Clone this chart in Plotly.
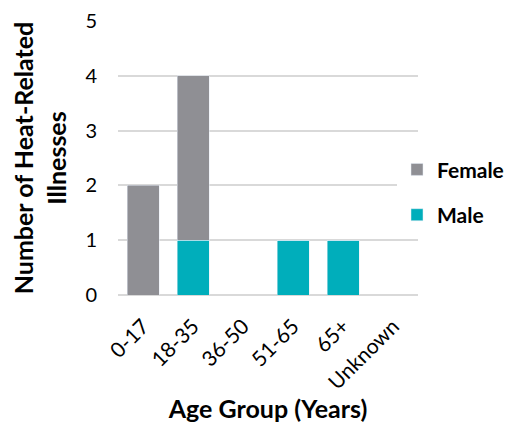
import plotly.graph_objects as go

categories = ["0-17", "18-35", "36-50", "51-65", "65+", "Unknown"]
male = [0, 1, 0, 1, 1, 0]
female = [2, 3, 0, 0, 0, 0]
y_ticks = [0, 1, 2, 3, 4, 5]

FONT = "Lato, Open Sans, sans-serif"
fig = go.Figure()
fig.add_trace(go.Bar(x=categories, y=male, name="Male", marker_color="#00AEBB",
                     legendgroup="m", legendrank=2))
fig.add_trace(go.Bar(x=categories, y=female, name="Female", marker_color="#8F8F94",
                     legendgroup="f", legendrank=1))

fig.update_layout(
    width=504, height=415,
    barmode="stack", bargap=0.36,
    paper_bgcolor="white", plot_bgcolor="white",
    margin=dict(l=110, r=94, t=13, b=128, autoexpand=False),
    font=dict(family=FONT, color="#000000", size=20),
    legend=dict(x=0.93, y=0.375, xanchor="left", yanchor="middle",
                traceorder="grouped", tracegroupgap=15,
                font=dict(size=21, family=FONT, weight="bold"),
                itemwidth=30),
    xaxis=dict(tickangle=-45, showline=False, ticks="", automargin=False,
               ticklabelstandoff=14, ticklabeloverflow="allow",
               title=dict(text="<b>Age Group (Years)</b>", font=dict(size=25), standoff=2),
               tickfont=dict(size=21)),
    yaxis=dict(range=[0, 5], tickvals=y_ticks, showgrid=True, gridcolor="#D9D9D9",
               gridwidth=2, zeroline=True, zerolinecolor="#D9D9D9", zerolinewidth=2,
               ticks="", ticklabelstandoff=20, automargin=False, ticklabeloverflow="allow",
               title=dict(text="<b>Number of Heat-Related<br>Illnesses</b>", font=dict(size=25),
                          standoff=24),
               tickfont=dict(size=20)),
)
fig.write_html("out.html")
